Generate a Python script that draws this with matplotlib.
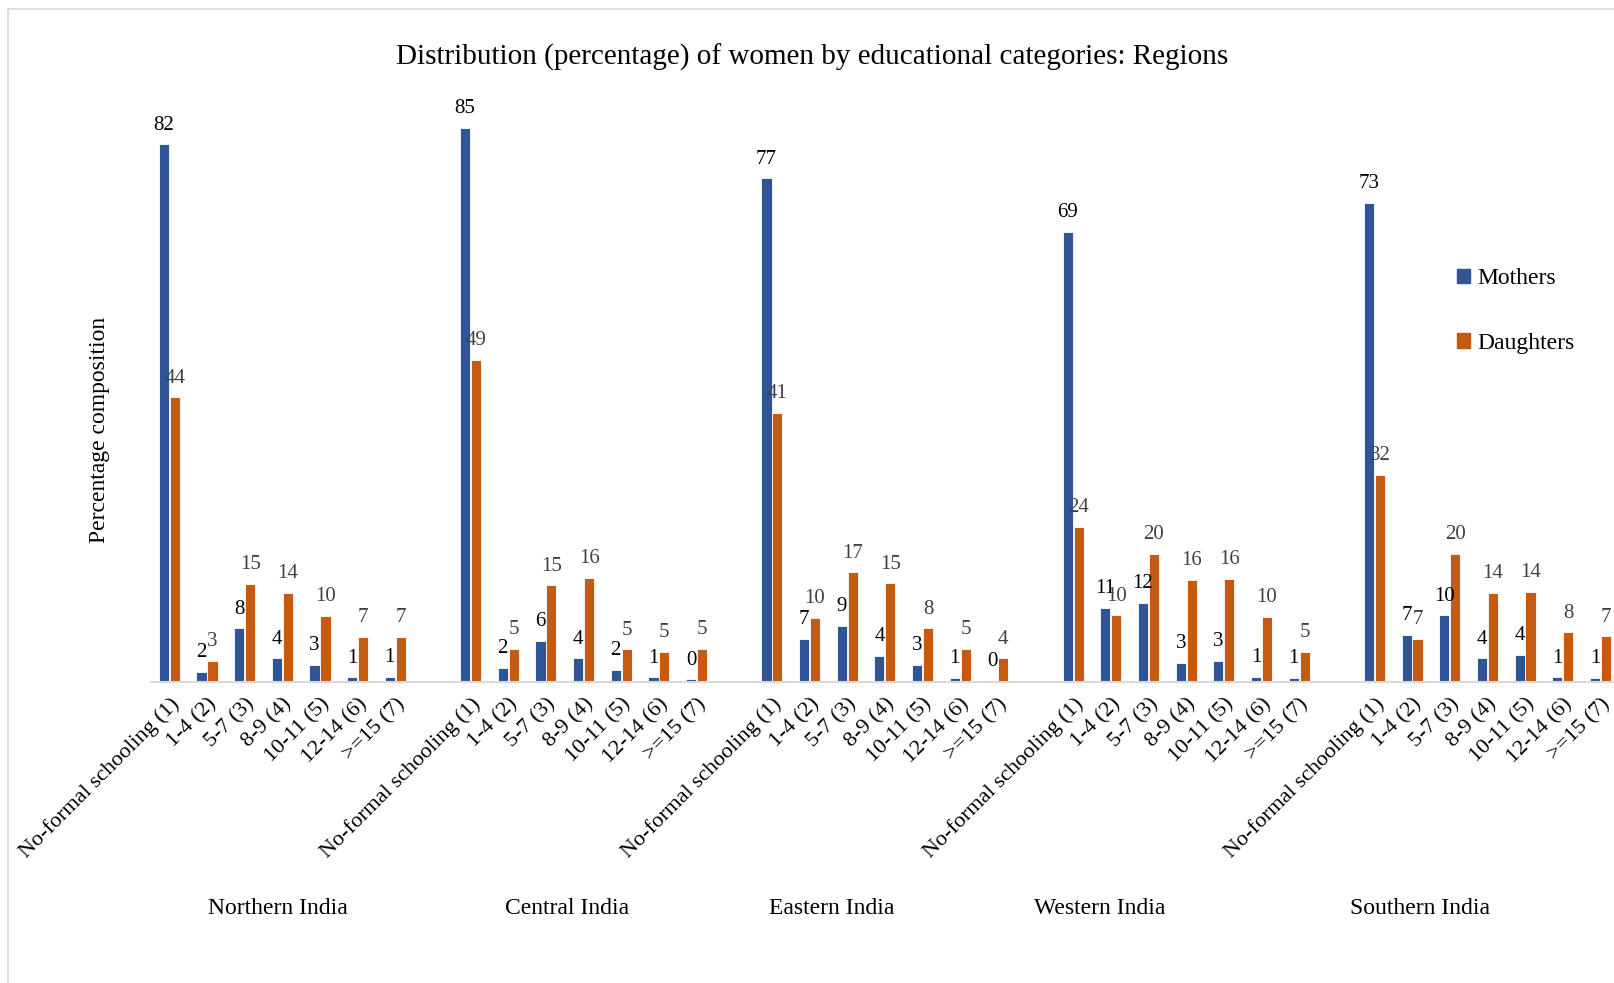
import matplotlib.pyplot as plt
from matplotlib.patches import Patch, Rectangle
from matplotlib.transforms import blended_transform_factory

regions = ["Northern India", "Central India", "Eastern India", "Western India", "Southern India"]
categories = ["No-formal schooling (1)", "1-4 (2)", "5-7 (3)", "8-9 (4)",
              "10-11 (5)", "12-14 (6)", ">=15 (7)"]

# percentage composition per region, in category order
mothers = [
    [82.3, 1.6, 8.2, 3.6, 2.6, 0.7, 0.8],
    [84.8, 2.2, 6.3, 3.6, 1.9, 0.7, 0.4],
    [77.1, 6.6, 8.6, 4.0, 2.6, 0.6, 0.2],
    [68.9, 11.4, 12.1, 2.9, 3.2, 0.8, 0.6],
    [73.4, 7.2, 10.2, 3.6, 4.2, 0.7, 0.6],
]
daughters = [
    [43.6, 3.2, 15.0, 13.6, 10.1, 6.9, 6.9],
    [49.3, 5.1, 14.8, 16.0, 5.0, 4.6, 5.1],
    [41.2, 9.8, 16.8, 15.1, 8.2, 5.1, 3.6],
    [23.8, 10.2, 19.6, 15.6, 15.8, 10.0, 4.6],
    [31.7, 6.6, 19.6, 13.6, 13.8, 7.6, 7.0],
]
# horizontal placement of the region names under each group
region_label_x = [2.89, 10.56, 17.58, 24.71, 33.21]

BLUE = "#2F5597"
ORANGE = "#C55A11"
GRID = "#D9D9D9"

plt.rcParams['font.family'] = ['Liberation Serif', 'DejaVu Serif']

fig = plt.figure(figsize=(16.14, 9.83), dpi=100)
fig.patches.append(Rectangle((8 / 1614, -0.1), 1.2, 1 - 9 / 983 + 0.1,
                             transform=fig.transFigure, fill=False,
                             edgecolor=GRID, linewidth=1.2))

ax = fig.add_axes([150.5 / 1614, 0.3062, (1614 - 150.5) / 1614, 0.598])

slot = len(categories) + 1
w = 0.27
off = 0.145
positions = []
for g in range(len(regions)):
    for c in range(len(categories)):
        x = g * slot + c
        positions.append(x)
        m = mothers[g][c]
        d = daughters[g][c]
        ax.bar(x - off, m, width=w, color=BLUE, edgecolor="white", linewidth=0.6)
        ax.bar(x + off, d, width=w, color=ORANGE, edgecolor="white", linewidth=0.6)
        ax.annotate(f"{m:.0f}", (x - off, m), xytext=(0, 7), textcoords="offset points",
                    ha="center", va="bottom", fontsize=15, color="black")
        ax.annotate(f"{d:.0f}", (x + off, d), xytext=(0, 7), textcoords="offset points",
                    ha="center", va="bottom", fontsize=15, color="#404040")

ax.set_xlim(-0.5, -0.5 + (1614 - 150.5) / 37.66)
ax.set_ylim(0, 90)
ax.set_xticks(positions)
ax.set_xticklabels(categories * len(regions), rotation=45, ha="right",
                   rotation_mode="anchor", fontsize=16)
ax.tick_params(axis="x", length=0, pad=9)
ax.set_yticks([])
for side in ["top", "right", "left"]:
    ax.spines[side].set_visible(False)
ax.spines["bottom"].set_color(GRID)
ax.spines["bottom"].set_linewidth(1.5)

trans = blended_transform_factory(ax.transData, fig.transFigure)
for name, xr in zip(regions, region_label_x):
    ax.text(xr, 1 - 908 / 983, name, transform=trans, ha="center", va="center",
            fontsize=17)

fig.text(99 / 1614, 1 - 430 / 983, "Percentage composition", rotation=90,
         ha="center", va="center", fontsize=17)
fig.text(812 / 1614, 1 - 57 / 983,
         "Distribution (percentage) of women by educational categories: Regions",
         ha="center", va="center", fontsize=21)

handles = [Patch(color=BLUE, label="Mothers"), Patch(color=ORANGE, label="Daughters")]
fig.legend(handles=handles, loc="upper left", bbox_to_anchor=(1436 / 1614, 1 - 247 / 983),
           frameon=False, fontsize=17, handlelength=0.55, handleheight=0.55,
           handletextpad=0.3, labelspacing=1.85)

fig.savefig("out.png", dpi=100)
